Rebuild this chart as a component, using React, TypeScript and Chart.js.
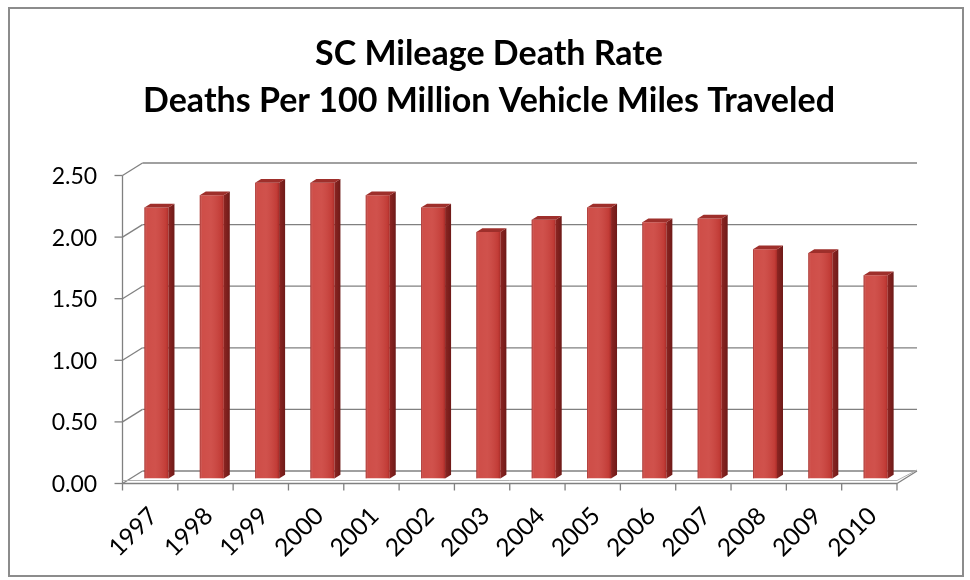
import React, { useEffect, useRef } from "react";
import { Chart, registerables } from "chart.js";

Chart.register(...registerables);

// Mileage death rate, deaths per 100 million vehicle miles traveled
const years = ["1997", "1998", "1999", "2000", "2001", "2002", "2003", "2004", "2005", "2006", "2007", "2008", "2009", "2010"];
const deathRates = [2.2, 2.3, 2.4, 2.4, 2.3, 2.2, 2.0, 2.1, 2.2, 2.08, 2.11, 1.86, 1.83, 1.65];
const titleLines = ["SC Mileage Death Rate", "Deaths Per 100 Million Vehicle Miles Traveled"];
const yMin = 0;
const yMax = 2.5;
const yStep = 0.5;

// 3D projection: the chart area is the plane the bars stand in;
// the front edge of the box sits in front of it, the back wall behind it.
const FRONT = { dx: -6.3, dy: 5 };
const BACK = { dx: 13.7, dy: -7.5 };
const BAR_DEPTH = { dx: 6, dy: -3.75 };
const GRID_COLOR = "#808080";
const FONT = "Lato";

const box3d = {
  id: "box3d",
  beforeDraw(chart: any) {
    const { ctx, width, height } = chart;
    ctx.save();
    ctx.fillStyle = "#ffffff";
    ctx.fillRect(0, 0, width, height);
    ctx.strokeStyle = "#8c8c8c";
    ctx.lineWidth = 2;
    ctx.strokeRect(9, 8, 954, 568);
    ctx.restore();
  },
  beforeDatasetsDraw(chart: any) {
    const { ctx, chartArea: a, scales } = chart;
    const y = scales.y;
    const x = scales.x;
    const fl = a.left + FRONT.dx;
    const fr = a.right + FRONT.dx;
    const bl = a.left + BACK.dx;
    const br = a.right + BACK.dx;
    const line = (x1: number, y1: number, x2: number, y2: number) => {
      ctx.beginPath();
      ctx.moveTo(x1, y1);
      ctx.lineTo(x2, y2);
      ctx.stroke();
    };
    ctx.save();
    ctx.strokeStyle = GRID_COLOR;
    ctx.lineWidth = 1.3;
    // back-wall gridlines, side-wall diagonals and value ticks
    y.ticks.forEach((t: any) => {
      const py = y.getPixelForValue(t.value);
      const fy = py + FRONT.dy;
      const by = py + BACK.dy;
      line(fl - 8, fy, fl, fy);
      line(fl, fy, bl, by);
      line(bl, by, br, by);
    });
    const top = y.getPixelForValue(y.max);
    const zero = y.getPixelForValue(0);
    const f0 = zero + FRONT.dy;
    const b0 = zero + BACK.dy;
    // front value axis
    line(fl, top + FRONT.dy, fl, f0);
    // floor edges
    line(fl, f0, fr, f0);
    line(fr, f0, br, b0);
    ctx.strokeStyle = "#b0b0b0";
    ctx.lineWidth = 1;
    line(fl, f0 - 3, fr, f0 - 3);
    line(fr, f0 - 3, br, b0 - 1);
    // category ticks
    ctx.strokeStyle = GRID_COLOR;
    ctx.lineWidth = 1.3;
    const n = x.ticks.length;
    for (let i = 0; i <= n; i++) {
      const xf = fl + (i * (fr - fl)) / n;
      line(xf, f0, xf, f0 + 7);
    }
    ctx.restore();
  },
  afterDatasetsDraw(chart: any) {
    const { ctx } = chart;
    const meta = chart.getDatasetMeta(0);
    ctx.save();
    meta.data.forEach((bar: any) => {
      const { x, y, base, width } = bar.getProps(["x", "y", "base", "width"], true);
      const l = x - width / 2;
      const r = x + width / 2;
      // front-face shading
      const g = ctx.createLinearGradient(l, 0, r, 0);
      g.addColorStop(0, "rgba(110,10,10,0.45)");
      g.addColorStop(0.1, "rgba(255,255,255,0.06)");
      g.addColorStop(0.45, "rgba(255,255,255,0.08)");
      g.addColorStop(0.9, "rgba(120,10,10,0.12)");
      g.addColorStop(1, "rgba(100,0,0,0.35)");
      ctx.fillStyle = g;
      ctx.fillRect(l, y, width, base - y);
      // side face
      const sg = ctx.createLinearGradient(r, 0, r + BAR_DEPTH.dx, 0);
      sg.addColorStop(0, "#8c2522");
      sg.addColorStop(1, "#6e1a18");
      ctx.fillStyle = sg;
      ctx.beginPath();
      ctx.moveTo(r, y);
      ctx.lineTo(r + BAR_DEPTH.dx, y + BAR_DEPTH.dy);
      ctx.lineTo(r + BAR_DEPTH.dx, base + BAR_DEPTH.dy);
      ctx.lineTo(r, base);
      ctx.closePath();
      ctx.fill();
      // top face
      ctx.fillStyle = "#9e2f2b";
      ctx.beginPath();
      ctx.moveTo(l, y);
      ctx.lineTo(l + BAR_DEPTH.dx, y + BAR_DEPTH.dy);
      ctx.lineTo(r + BAR_DEPTH.dx, y + BAR_DEPTH.dy);
      ctx.lineTo(r, y);
      ctx.closePath();
      ctx.fill();
    });
    ctx.restore();
  },
};

export default function App() {
  const canvasRef = useRef<HTMLCanvasElement | null>(null);

  useEffect(() => {
    document.body.style.margin = "0";
    const canvas = canvasRef.current;
    if (!canvas) return;
    const chart = new Chart(canvas, {
      type: "bar",
      data: {
        labels: years,
        datasets: [
          {
            data: deathRates,
            backgroundColor: "#cc433d",
            borderWidth: 0,
            barPercentage: 0.434,
            categoryPercentage: 1,
          },
        ],
      },
      options: {
        responsive: false,
        animation: false,
        devicePixelRatio: 1,
        layout: { padding: { left: 8, right: 0, top: 0, bottom: 0 } },
        plugins: {
          legend: { display: false },
          tooltip: { enabled: false },
          title: {
            display: true,
            text: titleLines,
            color: "#000000",
            font: { family: FONT, weight: "bold", size: 34, lineHeight: "47px" },
            padding: { top: 30.5, bottom: 46 },
          },
        },
        scales: {
          x: {
            grid: { display: false, drawTicks: false },
            border: { display: false },
            ticks: {
              autoSkip: false,
              maxRotation: 45,
              minRotation: 45,
              padding: 23,
              labelOffset: -3,
              color: "#000000",
              font: { family: FONT, size: 24.5 },
            },
            afterFit: (s: any) => {
              s.height = 101.5;
            },
          },
          y: {
            min: yMin,
            max: yMax,
            grid: { display: false, drawTicks: false },
            border: { display: false },
            ticks: {
              stepSize: yStep,
              padding: 31.7,
              labelOffset: 6,
              color: "#000000",
              font: { family: FONT, size: 23 },
              callback: (v: any) => Number(v).toFixed(2),
            },
            afterFit: (s: any) => {
              s.width = 120.8;
            },
          },
          // empty margin on the right of the plot
          yRight: {
            type: "linear",
            position: "right",
            grid: { display: false, drawTicks: false },
            border: { display: false },
            ticks: { display: false },
            afterFit: (s: any) => {
              s.width = 66.7;
            },
          },
        },
      },
      plugins: [box3d],
    });
    return () => chart.destroy();
  }, []);

  return <canvas ref={canvasRef} width={970} height={580} style={{ display: "block" }} />;
}
